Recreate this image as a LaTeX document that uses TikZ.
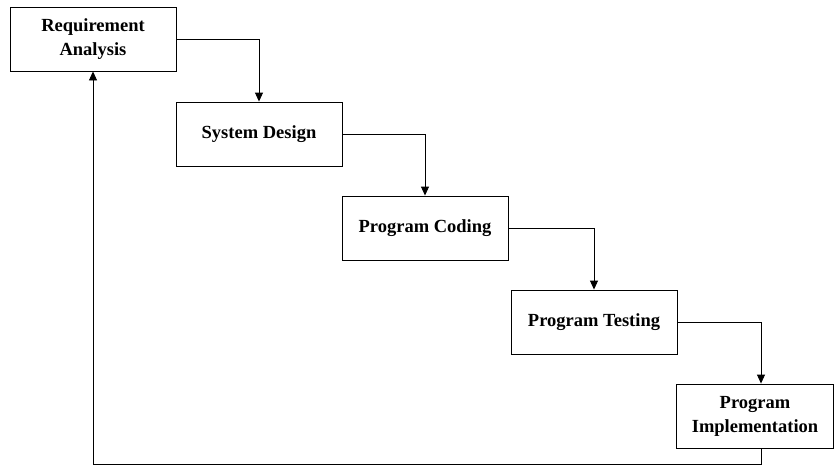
\documentclass[tikz,border=0pt]{standalone}
\usepackage{fontspec}
\setmainfont{Liberation Serif}
\usetikzlibrary{arrows.meta}
\tikzset{
  stage/.style={draw, line width=0.9pt, minimum width=166pt, minimum height=64pt, inner sep=0pt, align=center,
    font=\fontsize{18.5}{24}\selectfont\bfseries},
  flow/.style={line width=0.9pt, -{Triangle[length=9pt,width=8pt]}}
}
\begin{document}
\begin{tikzpicture}[x=1pt,y=-1pt]
\useasboundingbox (0,0) rectangle (835,466);
\node[stage] (ra) at (93,39) {Requirement\\Analysis};
\node[stage] (sd) at (259,134) {System Design};
\node[stage] (pc) at (425,228) {Program Coding};
\node[stage] (pt) at (594,322) {Program Testing};
\node[stage, minimum width=157pt] (pi) at (755,416) {Program\\Implementation};
\draw[flow] (ra.east) -| ([xshift=0pt]sd.north);
\draw[flow] (sd.east) -| (pc.north);
\draw[flow] (pc.east) -| (pt.north);
\draw[flow] (pt.east) -| ([xshift=6pt]pi.north);
\coordinate (c1) at ([xshift=6pt]pi.south |- 0,464);
\coordinate (c2) at (ra.south |- 0,464);
\draw[flow] ([xshift=6pt]pi.south) -- (c1) -- (c2) -- (ra.south);
\end{tikzpicture}
\end{document}
